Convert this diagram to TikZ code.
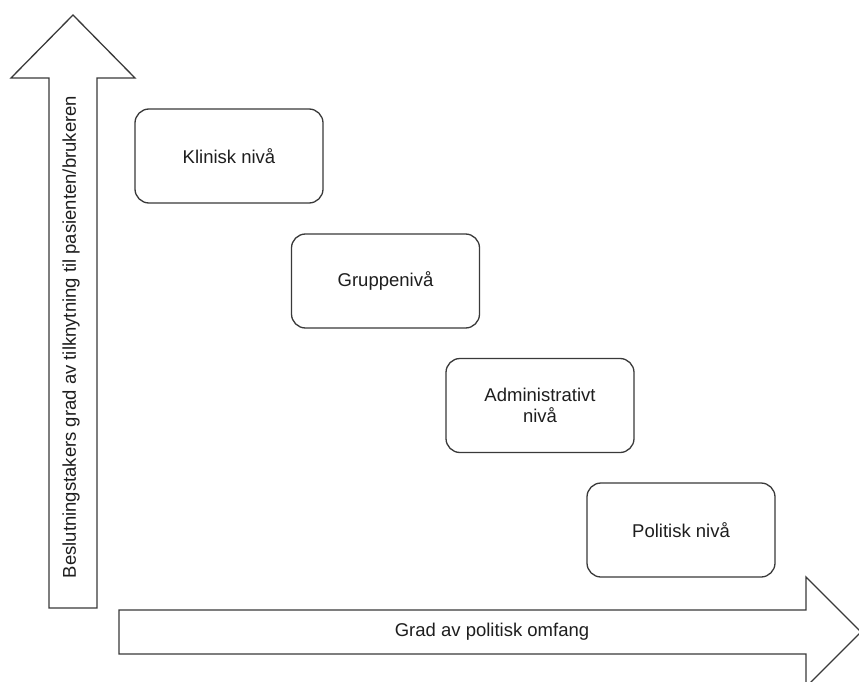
\documentclass[tikz,border=0pt]{standalone}
\usepackage{fontspec}
\setmainfont{Liberation Sans}
\definecolor{edge}{HTML}{3A3A3A}
\definecolor{ink}{HTML}{1E1E1E}
\begin{document}
\begin{tikzpicture}[x=1pt,y=-1pt,
  outline/.style={draw=edge, line width=1.3pt, line join=miter},
  level/.style={draw=edge, line width=1.3pt, rounded corners=14pt, minimum width=188pt, minimum height=94pt, align=center, font=\fontsize{18.5}{21}\selectfont, text=ink, inner sep=0pt},
  lbl/.style={font=\fontsize{18.5}{21}\selectfont, text=ink, inner sep=0pt}]
\useasboundingbox (0,0) rectangle (859,682);
\clip (0,0) rectangle (859,682);
\fill[white] (0,0) rectangle (859,682);
% vertical arrow
\draw[outline] (49,608) -- (49,78) -- (11,78) -- (73,15) -- (135,78) -- (97,78) -- (97,608) -- cycle;
\node[lbl, rotate=90] (ylab) at (71,337) {Beslutningstakers grad av tilknytning til pasienten/brukeren};
% horizontal arrow
\draw[outline] (119,610) -- (806,610) -- (806,577) -- (861,632) -- (806,687) -- (806,654) -- (119,654) -- cycle;
\node[lbl] (xlab) at (492,632) {Grad av politisk omfang};
% levels
\node[level] (klin) at (229,156) {Klinisk nivå};
\node[level] (grup) at (385.5,281) {Gruppenivå};
\node[level] (adm) at (540,405.5) {Administrativt\\nivå};
\node[level] (pol) at (681,530) {Politisk nivå};
\end{tikzpicture}
\end{document}
